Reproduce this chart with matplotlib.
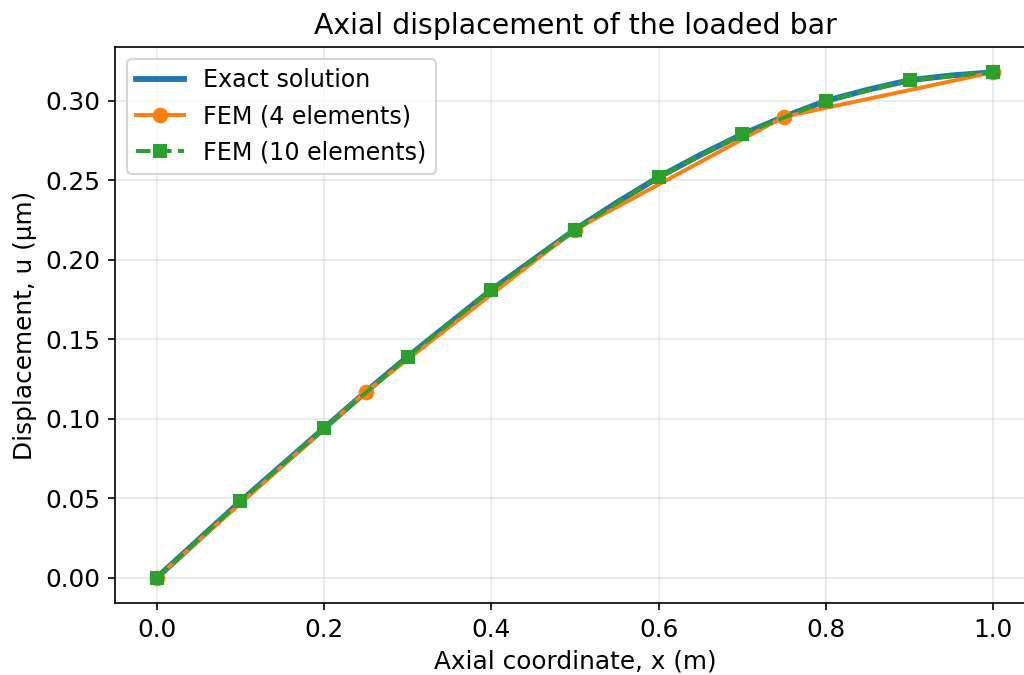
import numpy as np
import matplotlib.pyplot as plt

# exact solution
x_exact = [0.0, 0.05, 0.1, 0.15, 0.2, 0.25, 0.3, 0.35, 0.4, 0.45, 0.5,
           0.55, 0.6, 0.65, 0.7, 0.75, 0.8, 0.85, 0.9, 0.95, 1.0]
u_exact = [0.0, 0.024, 0.048, 0.071, 0.094, 0.117, 0.139, 0.160, 0.181, 0.200, 0.219,
           0.236, 0.252, 0.266, 0.279, 0.290, 0.300, 0.307, 0.313, 0.316, 0.318]

# FEM nodal values
x_fem4 = [0.0, 0.25, 0.5, 0.75, 1.0]
u_fem4 = [0.0, 0.117, 0.219, 0.290, 0.318]

x_fem10 = [0.0, 0.1, 0.2, 0.3, 0.4, 0.5, 0.6, 0.7, 0.8, 0.9, 1.0]
u_fem10 = [0.0, 0.048, 0.094, 0.139, 0.181, 0.219, 0.252, 0.279, 0.300, 0.313, 0.318]

fig = plt.figure(figsize=(1024 / 150, 675 / 150), dpi=150)
ax = fig.add_axes([0.1123, 0.1067, 0.8984, 0.8237])

ax.plot(x_exact, u_exact, color='#1f77b4', lw=2.8, label='Exact solution')
ax.plot(x_fem4, u_fem4, '-o', color='#ff7f0e', lw=1.9, ms=6.5, label='FEM (4 elements)')
ax.plot(x_fem10, u_fem10, '--s', color='#2ca02c', lw=1.9, ms=5.5, label='FEM (10 elements)')

ax.set_title('Axial displacement of the loaded bar', fontsize=13.6)
ax.set_xlabel('Axial coordinate, x (m)', fontsize=11.9)
ax.set_ylabel('Displacement, u (µm)', fontsize=11.9)
ax.tick_params(labelsize=11.9)
ax.grid(True, alpha=0.3)
ax.legend(loc='upper left', fontsize=11.4)

fig.savefig('out.png', dpi=150)
